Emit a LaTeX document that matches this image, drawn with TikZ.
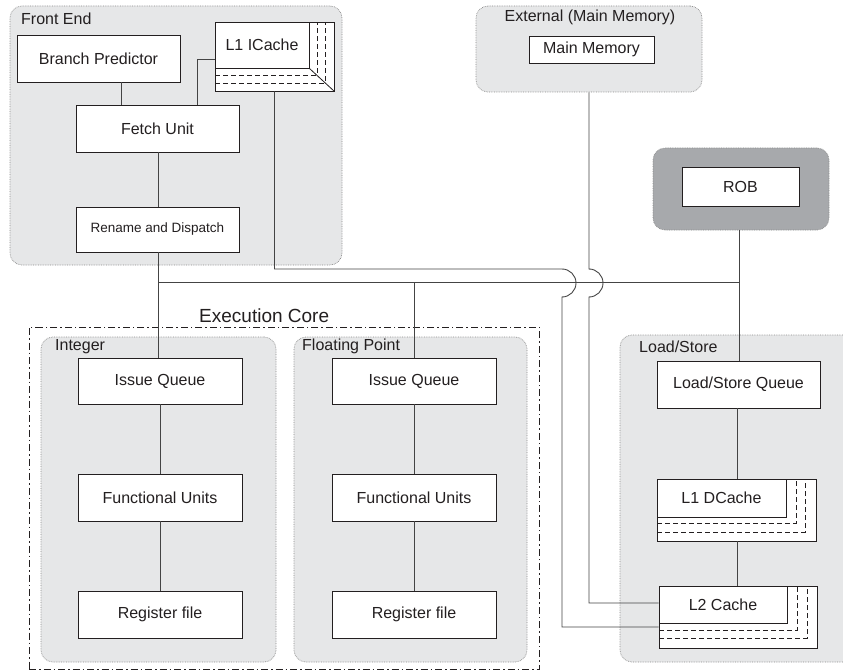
\documentclass[tikz,border=0pt]{standalone}
\usepackage{fontspec}
\setmainfont{Liberation Sans}
\definecolor{grp}{HTML}{E6E7E8}
\definecolor{grpdark}{HTML}{A7A9AC}
\definecolor{grpline}{HTML}{8A8A8A}
\definecolor{wirec}{HTML}{444444}
\definecolor{ink}{HTML}{231F20}
\tikzset{
  sz/.style 2 args={minimum width=#1pt, minimum height=#2pt},
  group/.style={fill=grp, draw=grpline, densely dotted, line width=0.7pt, rounded corners=12pt, inner sep=0pt},
  groupdark/.style={group, fill=grpdark},
  corebox/.style={draw=ink, dash pattern=on 7pt off 3pt on 1.5pt off 3pt, line width=0.8pt, inner sep=0pt},
  box/.style={draw=ink, fill=white, line width=0.9pt, inner sep=0pt, text=ink, font=\fontsize{16}{19}\selectfont},
  wire/.style={draw=wirec, line width=0.9pt},
  cachedash/.style={draw=ink, dash pattern=on 5pt off 3pt, line width=0.8pt},
  glabel/.style={text=ink, font=\fontsize{16}{19}\selectfont, inner sep=0pt, anchor=base west},
}
\begin{document}
\begin{tikzpicture}[x=1pt,y=-1pt]
\useasboundingbox (0,0) rectangle (843,671);
\fill[white] (0,0) rectangle (843,671);

% ---------- groups ----------
\node[group, sz={332}{259}] (fe) at (176,135.5) {};
\node[glabel] (fel) at (21,25) {Front End};
\node[group, sz={226}{86}] (ext) at (589,49) {};
\node[glabel, anchor=base] (extl) at (590,22) {External (Main Memory)};
\node[groupdark, sz={176}{82}] (robg) at (741,189) {};
\node[corebox, sz={510}{342}] (core) at (284,498) {};
\node[glabel, font=\fontsize{19}{22}\selectfont] (corel) at (199,322) {Execution Core};
\node[group, sz={235}{325}] (intg) at (158.5,499.5) {};
\node[glabel] (intl) at (55,350) {Integer};
\node[group, sz={233}{325}] (fpg) at (410.5,499.5) {};
\node[glabel] (fpl) at (302,350) {Floating Point};
\node[group, sz={240}{327}] (lsg) at (740,498.5) {};
\node[glabel] (lsl) at (639,352) {Load/Store};

% ---------- boxes ----------
\node[box, sz={163}{47}] (bp) at (98.5,58.5) {Branch Predictor};
\node[box, sz={163}{47}] (fetch) at (157.5,128.5) {Fetch Unit};
\node[box, sz={163}{45}, font=\fontsize{13.5}{16}\selectfont] (ren) at (157.5,229.5) {Rename and Dispatch};

% L1 ICache
\node[box, sz={119}{69}] (icache) at (274.5,56.5) {};
\draw[cachedash] (215,75) -- (317,75) -- (317,22);
\draw[cachedash] (215,83) -- (325,83) -- (325,22);
\node[box, sz={94}{46}] (icin) at (262,45) {L1 ICache};
\draw[draw=ink, line width=0.8pt] (icin.south east) -- (icache.south east);

\node[box, sz={125}{27}] (mm) at (591.5,49.5) {Main Memory};
\node[box, sz={117}{39}] (rob) at (740.5,186.5) {ROB};

\node[box, sz={164}{46}] (intiq) at (160,381) {Issue Queue};
\node[box, sz={164}{47}] (intfu) at (160,497.5) {Functional Units};
\node[box, sz={164}{47}] (intrf) at (160,614.5) {Register file};
\node[box, sz={164}{46}] (fpiq) at (414,381) {Issue Queue};
\node[box, sz={164}{47}] (fpfu) at (414,497.5) {Functional Units};
\node[box, sz={164}{47}] (fprf) at (414,614.5) {Register file};

\node[box, sz={163}{47}] (lsq) at (738.5,384.5) {Load/Store Queue};

% L1 DCache
\node[box, sz={159}{62}] (l1d) at (736.5,510) {};
\draw[cachedash] (657,523) -- (796,523) -- (796,479);
\draw[cachedash] (657,532) -- (805,532) -- (805,479);
\node[box, sz={129}{38}] (l1din) at (721.5,498) {L1 DCache};

% L2 Cache
\node[box, sz={158}{62}] (l2) at (738,617) {};
\draw[cachedash] (659,630) -- (797,630) -- (797,586);
\draw[cachedash] (659,638) -- (807,638) -- (807,586);
\node[box, sz={128}{37}] (l2in) at (723,604.5) {L2 Cache};

% ---------- connectors ----------
\coordinate (xbp) at (121,0);
\coordinate (xfi) at (197,0);
\coordinate (yfi) at (0,59);
\coordinate (xr) at (158,0);
\coordinate (busL) at (158,282);
\coordinate (xrob) at (739,0);
\coordinate (xls) at (737,0);
\coordinate (jA) at (562,269);
\coordinate (jB) at (589,269);
\coordinate (ya) at (0,627);
\coordinate (yb) at (0,603);

\draw[wire] (bp.south -| xbp) -- (fetch.north -| xbp);
\draw[wire] (fetch.north -| xfi) |- (icache.west |- yfi);
\draw[wire] (fetch.south -| xr) -- (ren.north -| xr);
\draw[wire] (ren.south -| xr) -- (intiq.north -| xr);
\draw[wire] (busL) -- (busL -| xrob);
\draw[wire] (robg.south -| xrob) -- (lsq.north -| xrob);
\draw[wire] (busL -| fpiq.north) -- (fpiq.north);

\draw[wire] (intiq) -- (intfu);
\draw[wire] (intfu) -- (intrf);
\draw[wire] (fpiq) -- (fpfu);
\draw[wire] (fpfu) -- (fprf);

\draw[wire] (lsq.south -| xls) -- (l1d.north -| xls);
\draw[wire] (l1d.south -| xls) -- (l2.north -| xls);

\draw[wire] (icache.south) |- (jA) arc[start angle=-90, end angle=90, radius=14] |- (l2.west |- ya);
\draw[wire] (ext.south) -- (jB) arc[start angle=-90, end angle=90, radius=14] |- (l2.west |- yb);
\end{tikzpicture}
\end{document}
